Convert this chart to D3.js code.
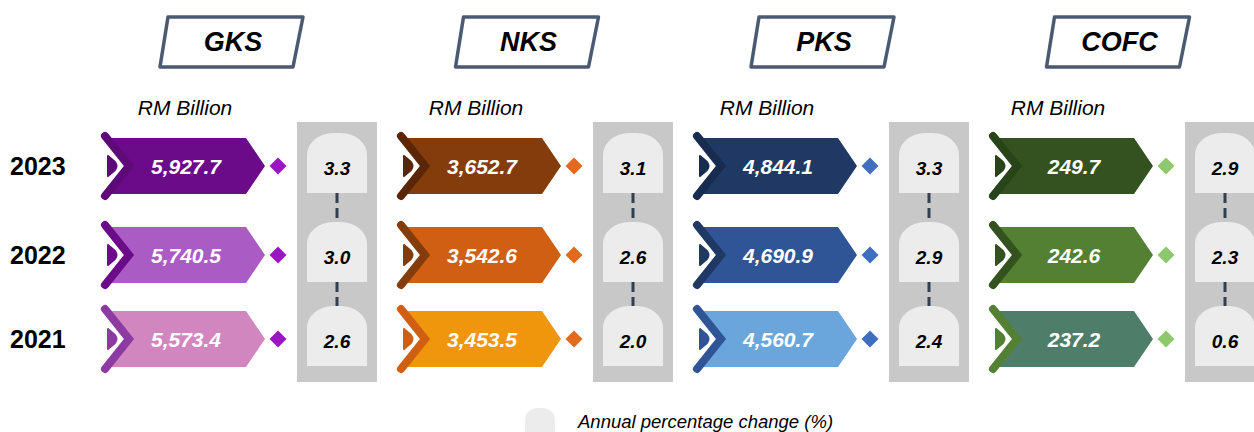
<!DOCTYPE html>
<html>
<head>
<meta charset="utf-8">
<script src="https://cdnjs.cloudflare.com/ajax/libs/d3/7.8.5/d3.min.js"></script>
<style>
  body { margin: 0; background: #fff; }
  svg text { font-family: Arial, "Liberation Sans", sans-serif; }
</style>
</head>
<body>
<div id="chart"></div>
<script>
// data
var years = ["2023", "2022", "2021"];
var groups = ["GKS", "NKS", "PKS", "COFC"];
var gksValues = ["5,927.7", "5,740.5", "5,573.4"];
var nksValues = ["3,652.7", "3,542.6", "3,453.5"];
var pksValues = ["4,844.1", "4,690.9", "4,560.7"];
var cofcValues = ["249.7", "242.6", "237.2"];
var gksChange = ["3.3", "3.0", "2.6"];
var nksChange = ["3.1", "2.6", "2.0"];
var pksChange = ["3.3", "2.9", "2.4"];
var cofcChange = ["2.9", "2.3", "0.6"];
var unitLabel = "RM Billion";
var legendLabel = "Annual percentage change (%)";

var values = [gksValues, nksValues, pksValues, cofcValues];
var changes = [gksChange, nksChange, pksChange, cofcChange];

// colours: bar fill per row, chevron per row, diamond
var barColors = [
  ["#6b0b8a", "#aa5bc4", "#d286c0"],
  ["#843c0c", "#d05f14", "#f0960d"],
  ["#203864", "#2f5597", "#6aa6dc"],
  ["#345220", "#538033", "#4e7e6a"]
];
var chevColors = [
  ["#5e0978", "#6b0b8a", "#8d3aa3"],
  ["#5b2608", "#843c0c", "#d05f14"],
  ["#182c50", "#203864", "#2f5597"],
  ["#2a4419", "#345220", "#538033"]
];
var diamondColors = ["#9b16c2", "#e3691c", "#3e6ec0", "#8dc86c"];

var W = 1254, H = 432;
var svg = d3.select("#chart").append("svg").attr("width", W).attr("height", H);

var x = d3.scalePoint().domain(groups).range([100, 988]);
var y = d3.scaleOrdinal().domain(years).range([166, 255, 339]);

// year labels
svg.selectAll(".year").data(years).enter().append("text")
  .attr("x", 10).attr("y", function(d) { return y(d); })
  .attr("dy", "0.36em")
  .style("font-size", "25px").style("font-weight", "bold").style("fill", "#000")
  .text(function(d) { return d; });

groups.forEach(function(g, gi) {
  var X = x(g);
  var p = svg.append("g");

  // header parallelogram
  var hx = 160 + gi * 295.5;
  p.append("path")
    .attr("d", "M" + (hx + 8) + ",17 L" + (hx + 143) + ",17 L" + (hx + 133) + ",67 L" + hx + ",67 Z")
    .style("fill", "#fff").style("stroke", "#4a5a72").style("stroke-width", 3.5)
    .style("stroke-linejoin", "round");
  p.append("text")
    .attr("x", hx + 73).attr("y", 51)
    .attr("text-anchor", "middle")
    .style("font-size", "27px").style("font-weight", "bold").style("font-style", "italic")
    .text(g);

  // unit label
  p.append("text")
    .attr("x", 185 + gi * 291).attr("y", 115)
    .attr("text-anchor", "middle")
    .style("font-size", "21px").style("font-style", "italic")
    .text(unitLabel);

  // grey panel
  p.append("rect")
    .attr("x", X + 197).attr("y", 122).attr("width", 80).attr("height", 260)
    .style("fill", "#c8c8c8");

  // dashed connectors
  for (var i = 0; i < years.length - 1; i++) {
    p.append("line")
      .attr("x1", X + 237).attr("x2", X + 237)
      .attr("y1", y(years[i]) + 27).attr("y2", y(years[i + 1]) - 33)
      .style("stroke", "#323f52").style("stroke-width", 3)
      .style("stroke-dasharray", "10,5");
  }

  years.forEach(function(yr, ri) {
    var m = y(yr);
    var top = m - 28, bot = m + 28;

    // bar with notched left end and pointed tip
    p.append("path")
      .attr("d", "M" + (X + 8) + "," + top + " L" + (X + 146) + "," + top +
        " L" + (X + 165) + "," + m + " L" + (X + 146) + "," + bot +
        " L" + (X + 8) + "," + bot + " L" + (X + 30) + "," + m + " Z")
      .style("fill", barColors[gi][ri]);

    // chevron
    p.append("path")
      .attr("d", "M" + (X + 5) + "," + (m - 30) + " L" + (X + 29) + "," + m + " L" + (X + 5) + "," + (m + 30))
      .style("fill", "none").style("stroke", chevColors[gi][ri])
      .style("stroke-width", 8).style("stroke-linecap", "round").style("stroke-linejoin", "miter");

    // small rounded triangle
    p.append("path")
      .attr("d", "M" + (X + 8) + "," + (m - 10) + " L" + (X + 15) + "," + (m - 4) +
        " Q" + (X + 18) + "," + m + " " + (X + 15) + "," + (m + 4) +
        " L" + (X + 8) + "," + (m + 10) + " Z")
      .style("fill", chevColors[gi][ri]).style("stroke", chevColors[gi][ri])
      .style("stroke-width", 2).style("stroke-linejoin", "round");

    // value
    p.append("text")
      .attr("x", X + 86).attr("y", m).attr("dy", "0.36em")
      .attr("text-anchor", "middle")
      .style("font-size", "21px").style("font-weight", "bold").style("font-style", "italic")
      .style("fill", "#fff")
      .text(values[gi][ri]);

    // diamond
    p.append("rect")
      .attr("x", -6).attr("y", -6).attr("width", 12).attr("height", 12)
      .attr("transform", "translate(" + (X + 178) + "," + m + ") rotate(45)")
      .style("fill", diamondColors[gi]);

    // tombstone
    var tx0 = X + 207, tx1 = X + 267, tt = m - 33, tb = m + 27, rx = 26, ry = 22;
    p.append("path")
      .attr("d", "M" + tx0 + "," + tb + " V" + (tt + ry) +
        " A" + rx + "," + ry + " 0 0 1 " + (tx0 + rx) + "," + tt +
        " H" + (tx1 - rx) +
        " A" + rx + "," + ry + " 0 0 1 " + tx1 + "," + (tt + ry) +
        " V" + tb + " Z")
      .style("fill", "#ececec");

    p.append("text")
      .attr("x", X + 237).attr("y", m + 2).attr("dy", "0.36em")
      .attr("text-anchor", "middle")
      .style("font-size", "19px").style("font-weight", "bold").style("font-style", "italic")
      .text(changes[gi][ri]);
  });
});

// legend
var lx0 = 525, lx1 = 555, lt = 408;
svg.append("path")
  .attr("d", "M" + lx0 + ",440 V" + (lt + 12) + " A13,12 0 0 1 " + (lx0 + 13) + "," + lt +
    " H" + (lx1 - 13) + " A13,12 0 0 1 " + lx1 + "," + (lt + 12) + " V440 Z")
  .style("fill", "#ececec");
svg.append("text")
  .attr("x", 578).attr("y", 428)
  .style("font-size", "18.5px").style("font-style", "italic")
  .text(legendLabel);
</script>
</body>
</html>
